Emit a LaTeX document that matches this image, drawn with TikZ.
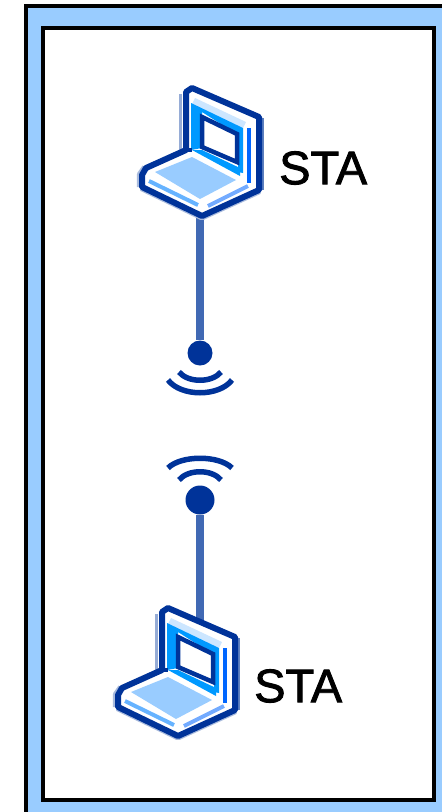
\documentclass[tikz,border=0pt]{standalone}
\usepackage{fontspec}
\setmainfont[FakeBold=1.8]{Liberation Sans}
\definecolor{frameblue}{HTML}{99CCFF}
\definecolor{navy}{HTML}{003399}
\definecolor{linkblue}{HTML}{4169B4}
\definecolor{cyanblue}{HTML}{0099FF}
\definecolor{palelid}{HTML}{CCE6FF}
\definecolor{stripeblue}{HTML}{0066FF}
\definecolor{frontblue}{HTML}{66B3FF}
\tikzset{
 staLabel/.style={inner sep=0pt,font=\fontsize{47}{47}\selectfont,anchor=west},
 linkLine/.style={draw=linkblue,line width=8pt},
 dotMark/.style={circle,fill=navy,inner sep=0pt},
 wave/.style={draw=navy,line width=5.5pt},
 laptop/.pic={
  \draw[draw=linkblue!55,line width=3pt] (180.5,94) -- (180.5,150);
  \draw[draw=linkblue!85,line width=3pt] (262.5,118) -- (262.5,190);
  \draw[draw=linkblue!45,line width=8.5pt,line join=round]
    (142,187) -- (202,216) -- (259,190);
  \draw[draw=linkblue!45,line width=8.5pt,line join=round]
    (146,168) -- (141,175) -- (141,187);
  \draw[draw=navy,line width=6pt,fill=white,line join=round]
    (186,92) -- (192,88) -- (259,117) -- (259,190) -- (202,216) -- (142,187) -- (142,175) -- (146,168) -- (186,150) -- cycle;
  % lid inner bands
  \fill[palelid] (195,98) -- (246,122) -- (243,128) -- (200,108) -- (192,104) -- cycle;
  \fill[cyanblue] (191,103) -- (243,128) -- (243,173) -- (238,172) -- (238,135) -- (202,112) -- (202,148) -- (191,150) -- cycle;
  \draw[draw=stripeblue,line width=4pt] (249,128) -- (249,183);
  % screen
  \draw[draw=navy,line width=4.5pt,fill=white,line join=miter] (202,117) -- (237,134) -- (237,162) -- (202,147) -- cycle;
  \fill[cyanblue] (192,150) -- (202,150) -- (240,168) -- (240,176) -- cycle;
  \draw[draw=navy,line width=3.5pt] (186,150) -- (192,150);
  % keyboard
  \fill[frameblue] (155,172) -- (192,157) -- (236,180) -- (200,199) -- cycle;
  % front edge highlights
  \draw[draw=frontblue,line width=4pt] (149,181) -- (198,205);
  \draw[draw=stripeblue!55,line width=4pt] (208,206) -- (248,186);
 }
}
\begin{document}
\begin{tikzpicture}[x=1pt,y=-1pt]
\useasboundingbox (0,0) rectangle (442,812);
\fill[white] (0,0) rectangle (442,812);
\fill[black] (24,4) rectangle (442,812);
\fill[frameblue] (28,8) rectangle (442,812);
\draw[black,line width=4pt,fill=white] (43,28) rectangle (434,800);
\coordinate (lapAport) at (200,214);
\coordinate (lapBport) at (200,625);
\node[dotMark,minimum size=25pt] (dotA) at (200,353) {};
\node[dotMark,minimum size=29pt] (dotB) at (200,500) {};
\draw[linkLine] (lapAport) -- (dotA);
\draw[linkLine] (dotB) -- (lapBport);
\pic (lapA) at (0,0) {laptop};
\pic (lapB) at (-24,520) {laptop};
\draw[wave] (179,372) .. controls (188,383) and (212,383) .. (221,372);
\draw[wave] (168,380) .. controls (181,397) and (219,397) .. (232,380);
\draw[wave] (179,480) .. controls (188,469) and (212,469) .. (221,480);
\draw[wave] (168,468) .. controls (181,455) and (219,455) .. (232,468);
\node[staLabel] (staA) at (279,168) {STA};
\node[staLabel] (staB) at (254,686) {STA};
\end{tikzpicture}
\end{document}
